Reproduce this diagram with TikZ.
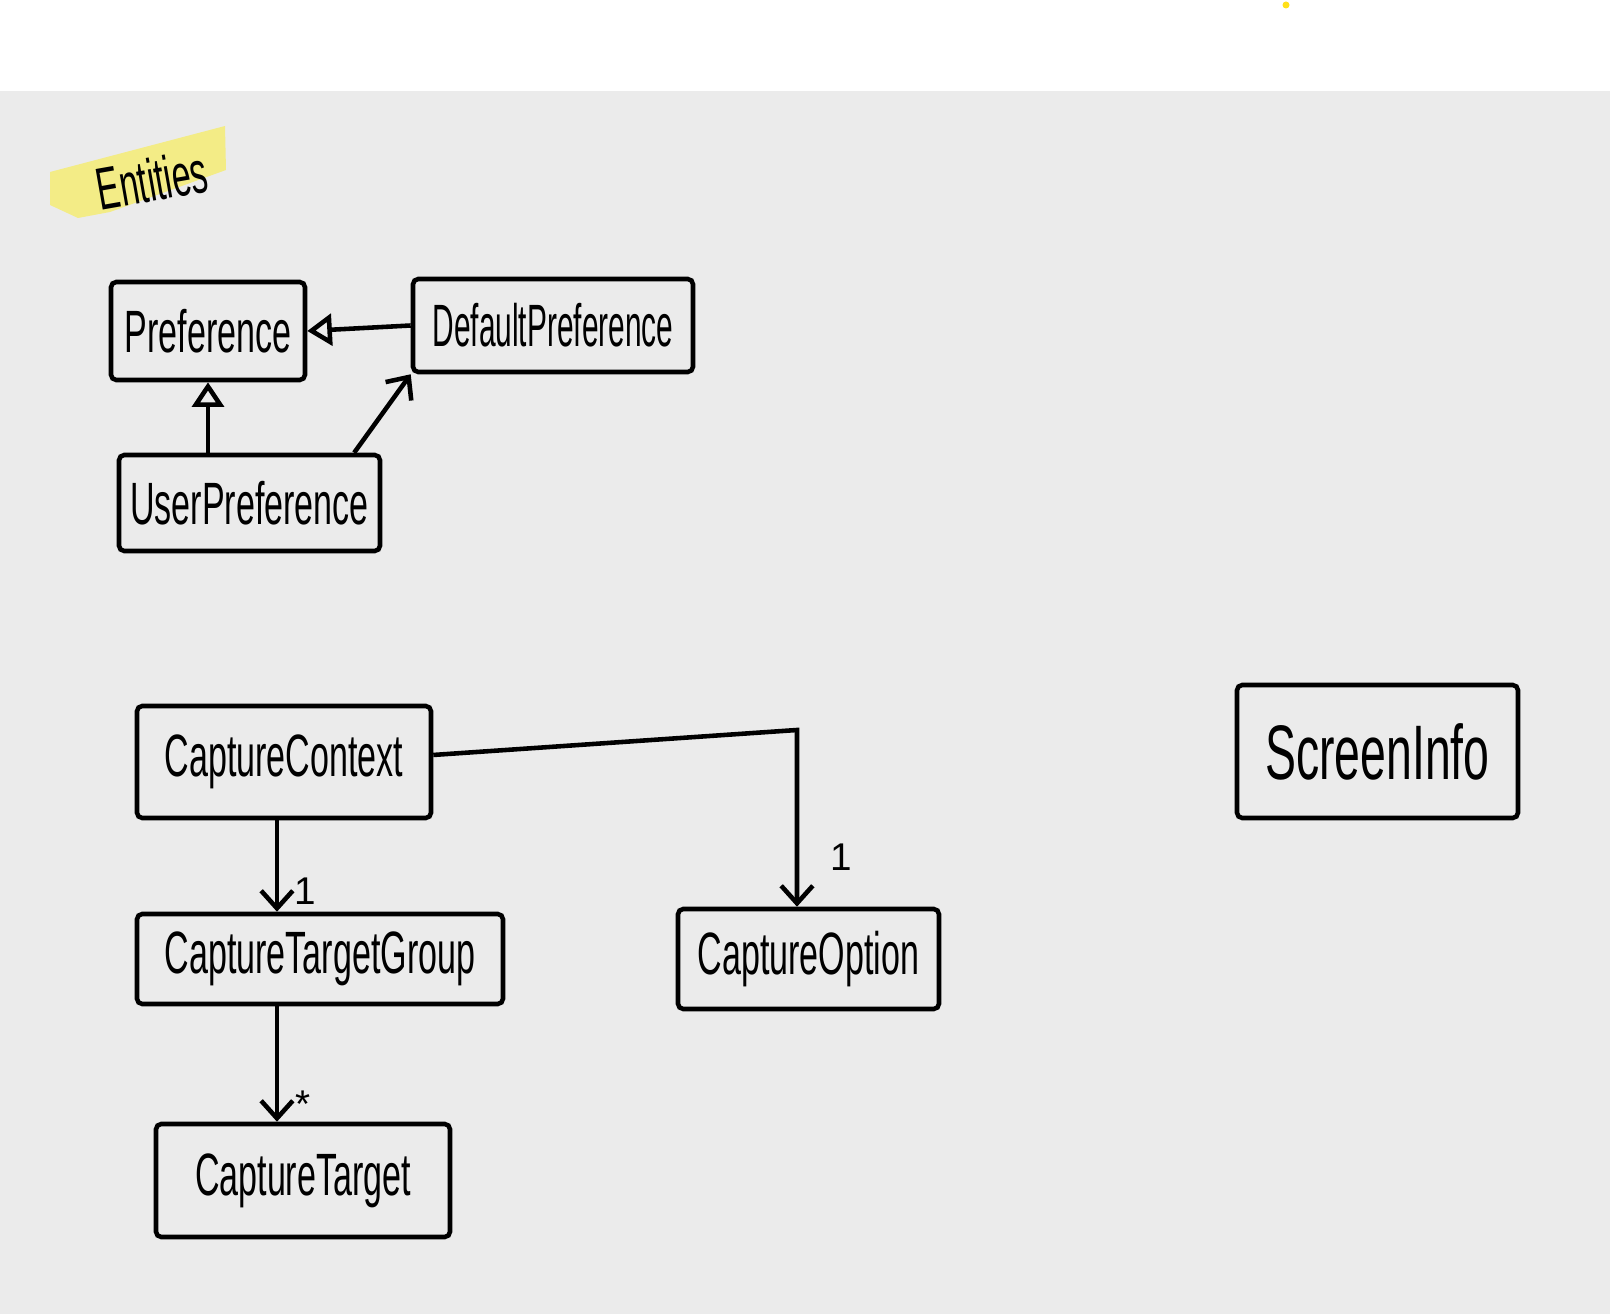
\documentclass[tikz,border=0pt]{standalone}
\usepackage{fontspec}
\usepackage{graphicx}
\usetikzlibrary{arrows.meta}
\newfontfamily\handfont{Liberation Sans}
\newcommand{\hw}[2][0.57]{\scalebox{#1}[1]{#2}}
\definecolor{boardgray}{HTML}{EBEBEB}
\definecolor{marker}{HTML}{F3EC86}
\definecolor{dotyellow}{HTML}{FFE01A}
\begin{document}
\begin{tikzpicture}[font=\handfont\fontsize{17}{20}\selectfont,
    cls/.style={draw,line width=1.3pt,rounded corners=1.5pt,inner sep=0pt},
    inherit/.style={line width=1.3pt,-{Triangle[open,length=7pt,width=9pt]}},
    assoc/.style={line width=1.3pt,-{Straight Barb[length=5pt,width=9pt]}},
    mult/.style={font=\handfont\fontsize{11}{13}\selectfont}]
  \useasboundingbox (0,0) rectangle (16.10,-13.14);
  \fill[boardgray] (0,-0.91) rectangle (16.10,-13.14);
  \fill[dotyellow] (12.86,-0.05) circle(0.035);

  % title marker
  \fill[marker] (0.50,-1.72) -- (2.25,-1.26) -- (2.26,-1.70) -- (1.10,-2.12) -- (0.78,-2.18) -- (0.50,-2.05) -- cycle;
  \node[rotate=10] (title) at (1.52,-1.80) {\hw{Entities}};

  % preferences
  \node[cls,minimum width=1.94cm,minimum height=0.98cm] (pref) at (2.08,-3.31) {\hw{Preference}};
  \node[cls,minimum width=2.80cm,minimum height=0.93cm] (dpref) at (5.53,-3.255) {\hw[0.5]{DefaultPreference}};
  \node[cls,minimum width=2.61cm,minimum height=0.96cm] (upref) at (2.495,-5.03) {\hw{UserPreference}};

  \draw[inherit] (dpref.west) -- (pref.east);
  \draw[inherit] (upref.north -| pref.south) -- (pref.south);
  \draw[assoc] ([xshift=-8pt]upref.north east) -- (dpref.south west);

  % capture
  \node[cls,minimum width=2.94cm,minimum height=1.12cm] (ctx) at (2.84,-7.62) {\hw{CaptureContext}};
  \node[cls,minimum width=3.66cm,minimum height=0.90cm] (ctg) at (3.20,-9.59) {\hw{CaptureTargetGroup}};
  \node[cls,minimum width=2.94cm,minimum height=1.13cm] (ct) at (3.03,-11.805) {\hw{CaptureTarget}};
  \node[cls,minimum width=2.61cm,minimum height=1.00cm] (copt) at (8.085,-9.59) {\hw{CaptureOption}};
  \node[cls,minimum width=2.81cm,minimum height=1.33cm,font=\handfont\fontsize{22}{26}\selectfont] (sinfo) at (13.775,-7.515) {\hw[0.6]{ScreenInfo}};

  \coordinate (bend) at (7.97,-7.30);
  \draw[assoc] ([yshift=2pt]ctx.east) -- (bend) -- (bend |- copt.north);
  \node[mult] (m1) at (8.41,-8.57) {1};

  \draw[assoc] ([xshift=-2pt]ctx.south) -- ([xshift=-2pt]ctx.south |- ctg.north);
  \node[mult] (m2) at (3.05,-8.91) {1};

  \draw[assoc] ([xshift=-2pt]ctx.south |- ctg.south) -- ([xshift=-2pt]ctx.south |- ct.north);
  \node[mult] (m3) at (3.03,-11.04) {*};
\end{tikzpicture}
\end{document}
